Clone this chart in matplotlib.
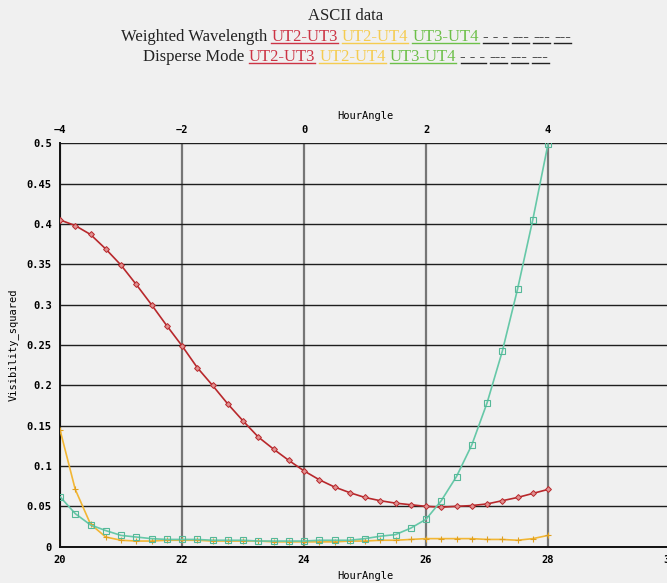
import matplotlib
matplotlib.use("Agg")
import matplotlib.pyplot as plt
from matplotlib.lines import Line2D

# hour angle (bottom axis, 20..28 in steps of 0.25)
hour = [20 + 0.25 * i for i in range(33)]

ut2_ut3 = [0.405, 0.398, 0.387, 0.369, 0.349, 0.325, 0.300, 0.274, 0.249,
           0.222, 0.200, 0.177, 0.156, 0.136, 0.121, 0.107, 0.094, 0.083,
           0.074, 0.067, 0.061, 0.057, 0.054, 0.052, 0.050, 0.049, 0.050,
           0.051, 0.053, 0.057, 0.061, 0.066, 0.071]
ut2_ut4 = [0.145, 0.071, 0.028, 0.012, 0.008, 0.007, 0.007, 0.008, 0.008,
           0.008, 0.007, 0.007, 0.007, 0.007, 0.006, 0.006, 0.006, 0.006,
           0.006, 0.007, 0.007, 0.008, 0.008, 0.009, 0.010, 0.010, 0.010,
           0.010, 0.009, 0.009, 0.008, 0.010, 0.014]
ut3_ut4 = [0.062, 0.041, 0.027, 0.020, 0.014, 0.012, 0.010, 0.009, 0.009,
           0.009, 0.008, 0.008, 0.008, 0.007, 0.007, 0.007, 0.007, 0.008,
           0.008, 0.008, 0.010, 0.013, 0.015, 0.023, 0.034, 0.057, 0.087,
           0.126, 0.178, 0.242, 0.319, 0.405, 0.499]

yticks = [0, 0.05, 0.1, 0.15, 0.2, 0.25, 0.3, 0.35, 0.4, 0.45, 0.5]
ytick_labels = ["0", "0.05", "0.1", "0.15", "0.2", "0.25", "0.3", "0.35", "0.4", "0.45", "0.5"]
xticks = [20, 22, 24, 26, 28, 30]
top_ticks = [-4, -2, 0, 2, 4, 6]

W, H = 667, 583
bg = "#f0f0f0"
mono = "DejaVu Sans Mono"
serif = "Liberation Serif"

fig = plt.figure(figsize=(W / 100, H / 100), dpi=100, facecolor=bg)
# axes runs a little past the right edge, like the original
ax = fig.add_axes([60 / W, (H - 546.7) / H, 610 / W, 403.4 / H], facecolor=bg)
ax.set_xlim(20, 30)
ax.set_ylim(0, 0.5)

ax.plot(hour, ut2_ut3, color="#b8282c", lw=1.2, marker="D", ms=3,
        mfc="#e09090", mec="#b8282c", mew=0.7, zorder=3)
ax.plot(hour, ut2_ut4, color="#f2b634", lw=1.2, marker="+", ms=5,
        mec="#e0a020", mew=0.8, zorder=3)
ax.plot(hour, ut3_ut4, color="#66c8a8", lw=1.2, marker="s", ms=4.5,
        mfc="none", mec="#55b898", mew=0.8, zorder=3)

ax.set_yticks(yticks)
ax.set_yticklabels(ytick_labels)
ax.set_xticks(xticks)
ax.tick_params(length=0, labelsize=7.5, pad=6)
for lab in ax.get_xticklabels() + ax.get_yticklabels():
    lab.set_family(mono)
    lab.set_fontweight("bold")

ax.yaxis.grid(True, color="#1e1e1e", lw=1.0)
ax.xaxis.grid(True, color="#767676", lw=1.6)
ax.set_axisbelow(True)
for side in ["top", "right"]:
    ax.spines[side].set_visible(False)
for side in ["left", "bottom"]:
    ax.spines[side].set_color("#111111")
    ax.spines[side].set_linewidth(1.4)

ax.set_xlabel("HourAngle", family=mono, fontsize=7.5, labelpad=4)
ax.set_ylabel("Visibility_squared", family=mono, fontsize=7.5, labelpad=6)

top = ax.secondary_xaxis("top", functions=(lambda x: x - 24, lambda x: x + 24))
top.set_xticks(top_ticks)
top.tick_params(length=0, labelsize=7.5, pad=6)
for lab in top.get_xticklabels():
    lab.set_family(mono)
    lab.set_fontweight("bold")
top.spines["top"].set_visible(False)
top.set_xlabel("HourAngle", family=mono, fontsize=7.5, labelpad=4)

# title block with coloured, underlined pieces
red, yel, grn, blk = "#cc3344", "#f5cc50", "#6cbf48", "#222222"
rows = [
    (20, [("ASCII data", blk, False)]),
    (40.7, [("Weighted Wavelength", blk, False), ("UT2-UT3", red, True),
            ("UT2-UT4", yel, True), ("UT3-UT4", grn, True),
            ("- - -", blk, True), ("---", blk, True), ("---", blk, True),
            ("---", blk, True)]),
    (60.7, [("Disperse Mode", blk, False), ("UT2-UT3", red, True),
            ("UT2-UT4", yel, True), ("UT3-UT4", grn, True),
            ("- - -", blk, True), ("---", blk, True), ("---", blk, True),
            ("---", blk, True)]),
]
fs = 12
renderer = fig.canvas.get_renderer()
probe_a = fig.text(0, 0, "aa", fontsize=fs, family=serif)
probe_b = fig.text(0, 0, "a a", fontsize=fs, family=serif)
space = probe_b.get_window_extent(renderer).width - probe_a.get_window_extent(renderer).width
probe_a.remove()
probe_b.remove()

cx = 346
for ybase, parts in rows:
    texts = []
    for s, c, ul in parts:
        t = fig.text(0, (H - ybase) / H, s, color=c, fontsize=fs, family=serif,
                     ha="left", va="baseline")
        texts.append(t)
    widths = [t.get_window_extent(renderer).width for t in texts]
    total = sum(widths) + space * (len(texts) - 1)
    x = cx - total / 2
    for t, w, (s, c, ul) in zip(texts, widths, parts):
        t.set_x(x / W)
        if ul:
            yu = (H - ybase - 2) / H
            fig.add_artist(Line2D([x / W, (x + w) / W], [yu, yu], color=c, lw=1))
        x += w + space

fig.savefig("out.png", dpi=100, facecolor=bg)
